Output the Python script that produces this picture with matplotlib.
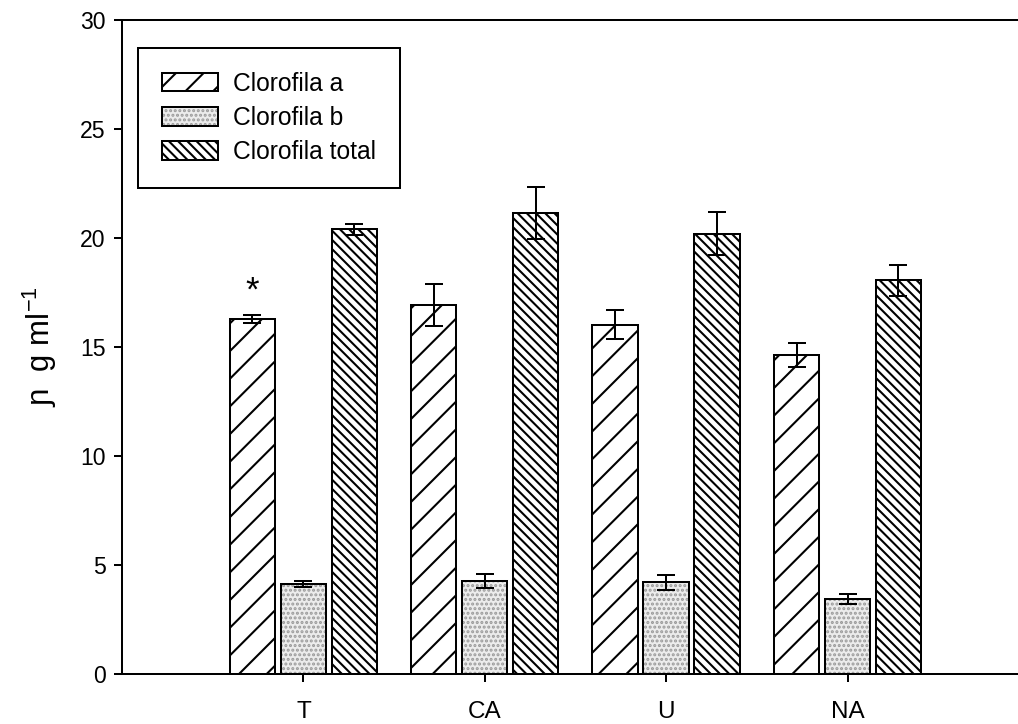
import matplotlib
matplotlib.use("Agg")
from matplotlib import pyplot as plt
from matplotlib.legend_handler import HandlerTuple
import numpy as np

plt.rcParams['font.family'] = ['Liberation Sans', 'DejaVu Sans']
plt.rcParams['mathtext.fontset'] = 'custom'
plt.rcParams['mathtext.rm'] = 'Liberation Sans'
plt.rcParams['hatch.linewidth'] = 0.9

# data
groups = ["T", "CA", "U", "NA"]
series = ["Clorofila a", "Clorofila b", "Clorofila total"]
clor_a = [16.3, 16.93, 16.02, 14.63]
clor_a_err = [0.18, 0.97, 0.66, 0.55]
clor_b = [4.14, 4.27, 4.2, 3.46]
clor_b_err = [0.13, 0.32, 0.36, 0.23]
clor_total = [20.41, 21.15, 20.2, 18.06]
clor_total_err = [0.25, 1.2, 1.0, 0.72]

DPI = 166
fig = plt.figure(figsize=(1018 / DPI, 724 / DPI), dpi=DPI)
ax = fig.add_axes([122 / 1018, 50 / 724, 1 - 122 / 1018, 654 / 724])

x = np.arange(len(groups))
off = 0.281
w = 0.25
lw = 0.87
err_kw = dict(ecolor="black", elinewidth=lw, capsize=3.9, capthick=lw)

bars_a = ax.bar(x - off, clor_a, w, yerr=clor_a_err, facecolor="white",
                edgecolor="black", linewidth=lw, hatch="//", error_kw=err_kw, zorder=2)
# stippled fill first, black outline on top
bars_b_fill = ax.bar(x, clor_b, w, facecolor="#ececec", edgecolor="#9a9a9a",
                     linewidth=0, hatch="......", zorder=2)
bars_b = ax.bar(x, clor_b, w, yerr=clor_b_err, fill=False, edgecolor="black",
                linewidth=lw, error_kw=err_kw, zorder=3)
bars_t = ax.bar(x + off, clor_total, w, yerr=clor_total_err, facecolor="white",
                edgecolor="black", linewidth=lw, hatch="\\\\\\\\\\\\", error_kw=err_kw, zorder=2)

ax.text(x[0] - off, 17.15, "*", ha="center", va="baseline", fontsize=15)

ax.set_xlim(-1.0, 3.94)
ax.set_ylim(0, 30)
ax.set_yticks(range(0, 31, 5))
ax.set_xticks(x)
ax.set_xticklabels(groups, fontsize=10.5)
ax.tick_params(axis="y", labelsize=10, direction="out", length=3.5, width=lw)
ax.tick_params(axis="x", direction="out", length=3.5, width=lw, pad=8)
ax.spines["right"].set_visible(False)
for s in ["left", "top", "bottom"]:
    ax.spines[s].set_linewidth(lw)

ax.set_ylabel("ɲ  g ml$^{-1}$", fontsize=13.5, labelpad=9)

leg = ax.legend([bars_a, (bars_b_fill, bars_b), bars_t], series,
                handler_map={tuple: HandlerTuple(ndivide=1)},
                loc="upper left", bbox_to_anchor=(0.018, 0.957), fontsize=10.7,
                fancybox=False, edgecolor="black", framealpha=1,
                handlelength=2.3, handleheight=0.8, handletextpad=0.6,
                labelspacing=0.42, borderpad=0.95, borderaxespad=0)
leg.get_frame().set_linewidth(lw)

fig.savefig("out.png", dpi=DPI)
